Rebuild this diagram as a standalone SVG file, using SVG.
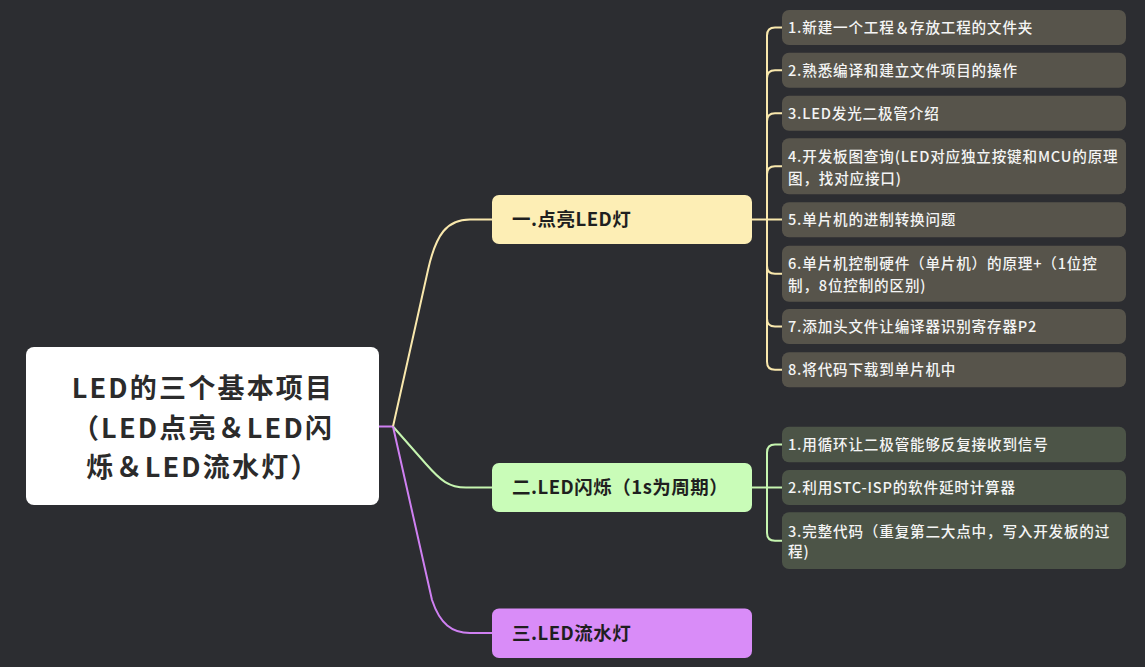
<svg xmlns="http://www.w3.org/2000/svg" width="1145" height="667" viewBox="0 0 1145 667">
<style>
text{font-family:"Noto Sans CJK SC","Noto Sans",sans-serif}
.root-t{font-size:27px;font-weight:700;fill:#2b2b2b;text-anchor:middle;letter-spacing:2.2px}
.l1-t{font-size:18.5px;font-weight:700;fill:#1f1f1f;letter-spacing:0.5px}
.l2-t{font-size:14.6px;font-weight:500;fill:#f4f4f4;letter-spacing:0.8px}
.ybox{fill:#57544b}
.gbox{fill:#4c5447}
.c{fill:none;stroke-width:2}
.cy{stroke:#f9e8ad}
.cg{stroke:#c6f5b0}
.cp{stroke:#cf80f2}
</style>
<rect width="1145" height="667" fill="#2c2d31"/>
<g id="connectors">
<path class="c cp" d="M379 426.5 H393"/>
<path class="c cy" d="M393 426.5 L428 270 C436 234 447 219.5 470 219.5 H492"/>
<path class="c cg" d="M393 426.5 L426 464 C441 481 449 487.5 466 487.5 H492"/>
<path class="c cp" d="M393 426.5 L432 600 C440 624 452 633 470 633 H492"/>
<path class="c cy" d="M752 219.5 H782"/>
<path class="c cy" d="M767 219.5 V35.5 Q767 27.5 775 27.5 H782"/>
<path class="c cy" d="M767 219.5 V78.2 Q767 70.2 775 70.2 H782"/>
<path class="c cy" d="M767 219.5 V121.2 Q767 113.2 775 113.2 H782"/>
<path class="c cy" d="M767 219.5 V174.3 Q767 166.3 775 166.3 H782"/>
<path class="c cy" d="M767 219.5 V265.7 Q767 273.7 775 273.7 H782"/>
<path class="c cy" d="M767 219.5 V318.5 Q767 326.5 775 326.5 H782"/>
<path class="c cy" d="M767 219.5 V361.8 Q767 369.8 775 369.8 H782"/>
<path class="c cg" d="M752 487.5 H782"/>
<path class="c cg" d="M767 487.5 V452.5 Q767 444.5 775 444.5 H782"/>
<path class="c cg" d="M767 487.5 V532.7 Q767 540.7 775 540.7 H782"/>
</g>
<g id="root">
<rect x="26" y="347" width="353" height="158" rx="8" fill="#ffffff"/>
<text class="root-t" x="203" y="398">LED的三个基本项目</text>
<text class="root-t" x="203" y="437.5">（LED点亮＆LED闪</text>
<text class="root-t" x="203" y="477">烁＆LED流水灯）</text>
</g>
<g id="n1">
<rect x="492" y="195" width="260" height="49" rx="7" fill="#fdeeb5"/>
<text class="l1-t" x="512" y="226">一.点亮LED灯</text>
</g>
<g id="n2">
<rect x="492" y="463" width="260" height="49" rx="7" fill="#c9fcb8"/>
<text class="l1-t" x="512" y="494">二.LED闪烁（1s为周期）</text>
</g>
<g id="n3">
<rect x="492" y="608.5" width="260" height="49.5" rx="7" fill="#d98cf8"/>
<text class="l1-t" x="512" y="640">三.LED流水灯</text>
</g>
<g id="n1-1">
<rect class="ybox" x="782" y="10" width="344" height="35" rx="7"/>
<text class="l2-t" x="788" y="32.8">1.新建一个工程＆存放工程的文件夹</text>
</g>
<g id="n1-2">
<rect class="ybox" x="782" y="52.7" width="344" height="35" rx="7"/>
<text class="l2-t" x="788" y="75.5">2.熟悉编译和建立文件项目的操作</text>
</g>
<g id="n1-3">
<rect class="ybox" x="782" y="95.7" width="344" height="35" rx="7"/>
<text class="l2-t" x="788" y="118.5">3.LED发光二极管介绍</text>
</g>
<g id="n1-4">
<rect class="ybox" x="782" y="138.3" width="344" height="56" rx="7"/>
<text class="l2-t" x="788" y="162">4.开发板图查询(LED对应独立按键和MCU的原理</text>
<text class="l2-t" x="788" y="183.6">图，找对应接口)</text>
</g>
<g id="n1-5">
<rect class="ybox" x="782" y="202.3" width="344" height="35" rx="7"/>
<text class="l2-t" x="788" y="225">5.单片机的进制转换问题</text>
</g>
<g id="n1-6">
<rect class="ybox" x="782" y="245.7" width="344" height="56" rx="7"/>
<text class="l2-t" x="788" y="269.3">6.单片机控制硬件（单片机）的原理+（1位控</text>
<text class="l2-t" x="788" y="290.5">制，8位控制的区别)</text>
</g>
<g id="n1-7">
<rect class="ybox" x="782" y="309" width="344" height="35" rx="7"/>
<text class="l2-t" x="788" y="331.8">7.添加头文件让编译器识别寄存器P2</text>
</g>
<g id="n1-8">
<rect class="ybox" x="782" y="352.3" width="344" height="35" rx="7"/>
<text class="l2-t" x="788" y="375.1">8.将代码下载到单片机中</text>
</g>
<g id="n2-1">
<rect class="gbox" x="782" y="426.7" width="344" height="35.6" rx="7"/>
<text class="l2-t" x="788" y="449.8">1.用循环让二极管能够反复接收到信号</text>
</g>
<g id="n2-2">
<rect class="gbox" x="782" y="470" width="344" height="35" rx="7"/>
<text class="l2-t" x="788" y="492.8">2.利用STC-ISP的软件延时计算器</text>
</g>
<g id="n2-3">
<rect class="gbox" x="782" y="512.3" width="344" height="56.7" rx="7"/>
<text class="l2-t" x="788" y="537">3.完整代码（重复第二大点中，写入开发板的过</text>
<text class="l2-t" x="788" y="557">程)</text>
</g>
</svg>
